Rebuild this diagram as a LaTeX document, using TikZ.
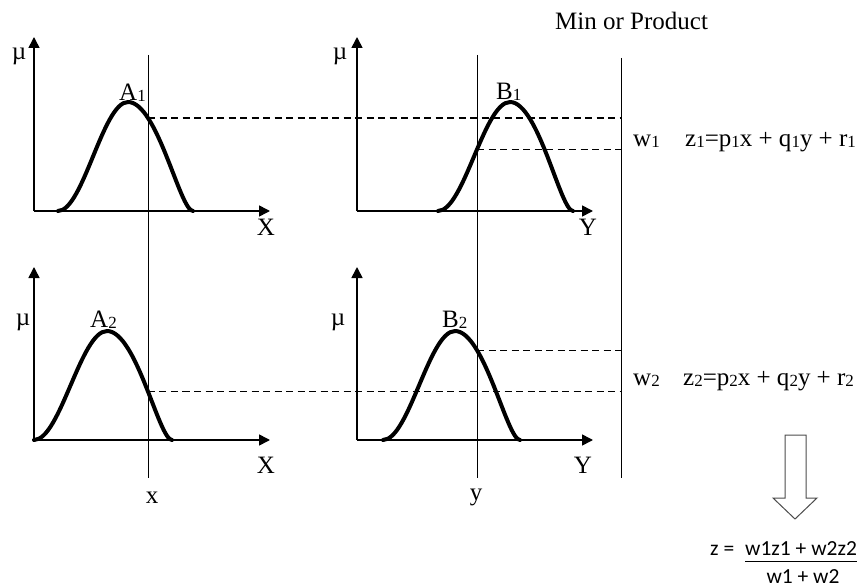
\documentclass[tikz,border=0pt]{standalone}
\usepackage{fontspec}
\setmainfont{Liberation Serif}
\newfontfamily\calib{Carlito}
\usetikzlibrary{arrows.meta,intersections,calc}
\newcommand{\sbs}[1]{\raisebox{-1pt}{\fontsize{17}{17}\selectfont #1}}
\newcommand{\bellcurve}[5]{%
  \draw[curve,name path=#1] (#2,#5)
    .. controls ({#2+0.36*(#3-#2)},#5) and ({#3-0.36*(#3-#2)},{#5-109}) .. (#3,{#5-109})
    .. controls ({#3+0.45*(#4-#3)},{#5-109}) and ({#4-0.2*(#4-#3)},#5) .. (#4,#5);}
\begin{document}
\begin{tikzpicture}[x=1pt,y=-1pt,
  axis/.style={line width=1.6pt,-{Triangle[length=11pt,width=11pt]}},
  guide/.style={line width=0.9pt},
  dashline/.style={line width=1.1pt,dash pattern=on 7pt off 4.5pt},
  curve/.style={line width=4pt,line cap=round,line join=round},
  lbl/.style={font=\fontsize{25}{28}\selectfont,inner sep=0pt,anchor=base},
  lblw/.style={lbl,anchor=base west},
  calibri/.style={font=\calib\fontsize{21.5}{25}\selectfont,inner sep=0pt}
]
\useasboundingbox (0,0) rectangle (864,588);

% axes origins and tips
\coordinate (O1) at (34,211);  \coordinate (T1y) at (34,37);  \coordinate (T1x) at (270,211);
\coordinate (O2) at (357,211); \coordinate (T2y) at (357,37); \coordinate (T2x) at (593,211);
\coordinate (O3) at (34,440);  \coordinate (T3y) at (34,267); \coordinate (T3x) at (270,440);
\coordinate (O4) at (357,440); \coordinate (T4y) at (357,267);\coordinate (T4x) at (593,440);

% guide lines
\coordinate (vxT) at (148,55);  \coordinate (vxB) at (148,478);
\coordinate (vyT) at (477,55);  \coordinate (vyB) at (477,478);
\coordinate (vrT) at (621,58);  \coordinate (vrB) at (621,478);
\draw[guide,name path=vx] (vxT) -- (vxB);
\draw[guide,name path=vy] (vyT) -- (vyB);
\draw[guide] (vrT) -- (vrB);

\draw[axis] (O1) -- (T1y); \draw[axis] (O1) -- (T1x);
\draw[axis] (O2) -- (T2y); \draw[axis] (O2) -- (T2x);
\draw[axis] (O3) -- (T3y); \draw[axis] (O3) -- (T3x);
\draw[axis] (O4) -- (T4y); \draw[axis] (O4) -- (T4x);

% membership curves
\bellcurve{cA1}{58}{128}{193}{211}
\bellcurve{cB1}{438}{510}{573}{211}
\bellcurve{cA2}{34}{107}{172}{440}
\bellcurve{cB2}{383}{455}{520}{440}

\path[name intersections={of=cA1 and vx,by=iA1}];
\path[name intersections={of=cB1 and vy,by=iB1}];
\path[name intersections={of=cA2 and vx,by=iA2}];
\path[name intersections={of=cB2 and vy,by=iB2}];

\draw[dashline] (iA1) -- (iA1 -| vrT);
\draw[dashline] (iB1) -- (iB1 -| vrT);
\draw[dashline] (iB2) -- (iB2 -| vrT);
\draw[dashline] (iA2) -- (iA2 -| vrT);

% labels
\node[lbl] (mu1) at (19,60) {µ};
\node[lbl] (mu2) at (340,60) {µ};
\node[lbl] (mu3) at (23,325) {µ};
\node[lbl] (mu4) at (338,325) {µ};
\node[lbl] (X1) at (266,235) {X};
\node[lbl] (Y1) at (588,235) {Y};
\node[lbl] (X2) at (266,473) {X};
\node[lbl] (Y2) at (583,473) {Y};
\node[lbl] (xv) at (152,503) {x};
\node[lbl] (yv) at (476,500) {y};
\node[lblw] (A1) at (119,101) {A\sbs{1}};
\node[lblw] (B1) at (496,100) {B\sbs{1}};
\node[lblw] (A2) at (90,327) {A\sbs{2}};
\node[lblw] (B2) at (442,327) {B\sbs{2}};
\node[lblw] (w1) at (633,147) {w\sbs{1}};
\node[lblw] (z1) at (685,147) {z\sbs{1}=p\sbs{1}x + q\sbs{1}y + r\sbs{1}};
\node[lblw] (w2) at (633,385) {w\sbs{2}};
\node[lblw] (z2) at (683,385) {z\sbs{2}=p\sbs{2}x + q\sbs{2}y + r\sbs{2}};
\node[lblw] (title) at (555,30) {Min or Product};

% block arrow
\draw[line width=1pt,draw=black!70,line join=miter]
  (785,435) -- (806,435) -- (806,498) -- (817,498) -- (795,519) -- (773,498) -- (785,498) -- cycle;

% final formula
\node[calibri,anchor=base west] (zeq) at (710,555) {z =};
\node[calibri,anchor=base west] (num) at (745,555) {w1z1 + w2z2};
\node[calibri,anchor=base] (den) at (803,583) {w1 + w2};
\draw[line width=0.9pt] ($(num.base west)+(0,6)$) -- ($(num.base east)+(0,6)$);
\end{tikzpicture}
\end{document}
